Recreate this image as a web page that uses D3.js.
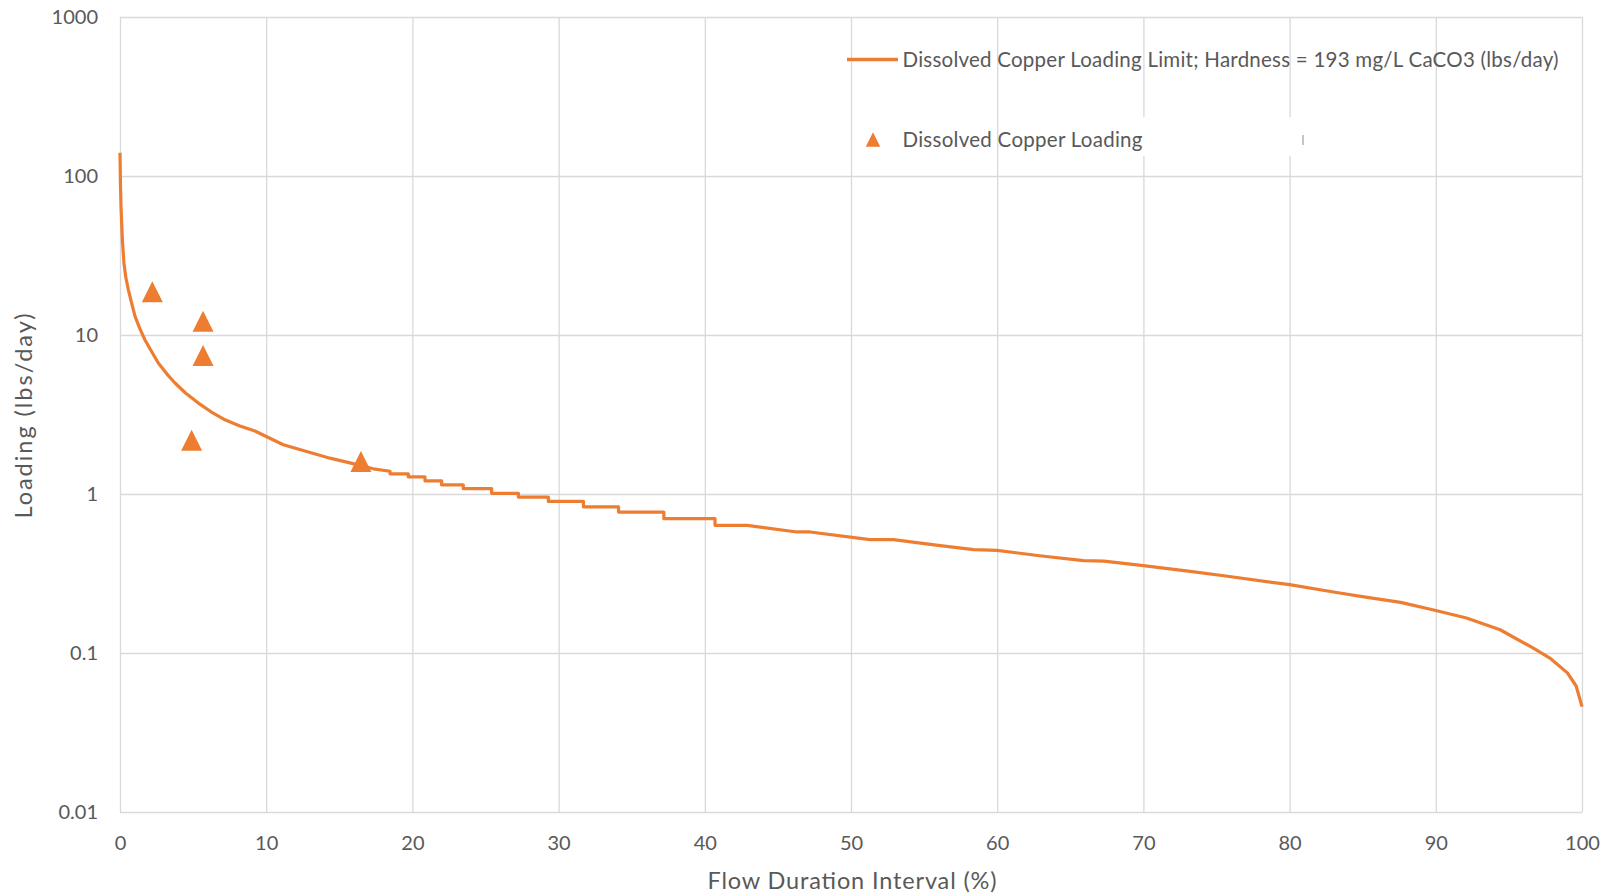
<!DOCTYPE html>
<html>
<head>
<meta charset="utf-8">
<script src="https://cdn.jsdelivr.net/npm/d3@7"></script>
<style>
  body { margin: 0; background: #fff; }
  text { font-family: Lato, "Open Sans", sans-serif; fill: #595959; }
</style>
</head>
<body>
<div class="chart"></div>
<script>

// Loading limit curve (flow duration %, lbs/day)
var limitFlow = [0, 0.03, 0.07, 0.16, 0.27, 0.4, 0.57, 0.8, 1.03, 1.35, 1.71, 2.15, 2.62, 3.2, 3.76, 4.5,
  5.36, 6.2, 7.18, 8.2, 9.23, 10.0, 11.17, 12.77, 14.36, 15.73, 17.33, 18.47, 18.47, 19.72, 19.72,
  20.86, 20.86, 22.0, 22.0, 23.48, 23.48, 25.42, 25.42, 27.25, 27.25, 29.3, 29.3, 31.7, 31.7,
  34.1, 34.1, 37.2, 37.2, 40.7, 40.7, 42.9, 46.3, 47.2, 51.3, 52.9, 56.1, 58.4, 60, 62.9, 65.9,
  67.3, 70, 73.2, 75.5, 80, 83.0, 85.3, 87.6, 90, 92.1, 94.4, 96.7, 97.8, 99.0, 99.6, 100];
var limitLoad = [140, 90, 64, 40, 28.4, 23, 19.3, 15.8, 13.1, 11, 9.3, 7.9, 6.67, 5.7, 4.99, 4.3,
  3.73, 3.3, 2.93, 2.68, 2.49, 2.30, 2.04, 1.85, 1.68, 1.57, 1.44, 1.39, 1.34, 1.34, 1.28,
  1.28, 1.21, 1.21, 1.14, 1.14, 1.08, 1.08, 1.01, 1.01, 0.957, 0.957, 0.898, 0.898, 0.83,
  0.83, 0.77, 0.77, 0.70, 0.70, 0.635, 0.635, 0.577, 0.577, 0.517, 0.517, 0.473, 0.447, 0.442, 0.409, 0.381,
  0.378, 0.354, 0.326, 0.306, 0.269, 0.242, 0.224, 0.208, 0.185, 0.166, 0.140, 0.107, 0.093, 0.075, 0.062, 0.046];

// Observed loadings
var obsFlow = [2.21, 5.68, 5.68, 4.9, 16.48];
var obsLoad = [18.7, 12.2, 7.43, 2.18, 1.60];

var xTicks = [0, 10, 20, 30, 40, 50, 60, 70, 80, 90, 100];
var yTicks = [0.01, 0.1, 1, 10, 100, 1000];

var seriesNames = ["Dissolved Copper Loading Limit; Hardness = 193 mg/L CaCO3 (lbs/day)",
  "Dissolved Copper Loading"];

LoadingChart = function(containerClassName) {
  this.containerClassName = containerClassName;
  this.init();
};

LoadingChart.prototype.init = function() {
  var vis = this;

  vis.margin = {left: 120, right: 26, top: 17, bottom: 83};
  vis.width = 1608 - vis.margin.left - vis.margin.right;
  vis.height = 895 - vis.margin.top - vis.margin.bottom;

  vis.svg = d3.select(vis.containerClassName).append("svg")
    .attr("width", 1608)
    .attr("height", 895);

  vis.g = vis.svg.append("g")
    .attr("transform", "translate(" + vis.margin.left + "," + vis.margin.top + ")");

  vis.x = d3.scaleLinear().domain([0, 100]).range([0, vis.width]);
  vis.y = d3.scaleLog().domain([0.01, 1000]).range([vis.height, 0]);

  // Axes with gridlines
  vis.yAxis = vis.g.append("g")
    .attr("class", "y-axis")
    .call(d3.axisLeft(vis.y)
      .tickValues(yTicks)
      .tickFormat(function(d) { return String(d); })
      .tickSizeInner(-vis.width)
      .tickSizeOuter(0)
      .tickPadding(22));

  vis.xAxis = vis.g.append("g")
    .attr("class", "x-axis")
    .attr("transform", "translate(0," + vis.height + ")")
    .call(d3.axisBottom(vis.x)
      .tickValues(xTicks)
      .tickSizeInner(-vis.height)
      .tickSizeOuter(0));

  vis.g.selectAll(".domain").remove();
  vis.g.selectAll(".tick line").attr("stroke", "#d9d9d9").attr("stroke-width", 1.3);
  vis.g.selectAll(".tick text")
    .attr("fill", "#595959")
    .style("font-size", "20px");
  vis.xAxis.selectAll(".tick text").attr("y", 31).attr("dy", "0.35em");

  // Axis titles
  vis.g.append("text")
    .text("Flow Duration Interval (%)")
    .attr("x", 852 - vis.margin.left)
    .attr("y", 889 - vis.margin.top)
    .attr("text-anchor", "middle")
    .attr("textLength", 289)
    .style("font-size", "23.5px");

  vis.svg.append("text")
    .text("Loading (lbs/day)")
    .attr("transform", "translate(32,416) rotate(-90)")
    .attr("text-anchor", "middle")
    .attr("textLength", 205)
    .style("font-size", "23.5px");

  vis.draw();
};

LoadingChart.prototype.draw = function() {
  var vis = this;

  var limitData = limitFlow.map(function(d, i) { return {flow: d, load: limitLoad[i]}; });
  var obsData = obsFlow.map(function(d, i) { return {flow: d, load: obsLoad[i]}; });

  var line = d3.line()
    .x(function(d) { return vis.x(d.flow); })
    .y(function(d) { return vis.y(d.load); });

  vis.g.append("path")
    .datum(limitData)
    .attr("d", line)
    .attr("fill", "none")
    .attr("stroke", "#ED7D31")
    .attr("stroke-width", 3.2)
    .attr("stroke-linejoin", "round");

  // Excel-style triangle marker
  var tri = {
    draw: function(context, size) {
      var h = Math.sqrt(size) / 2;
      context.moveTo(0, -h);
      context.lineTo(h, h);
      context.lineTo(-h, h);
      context.closePath();
    }
  };

  vis.g.selectAll(".obs")
    .data(obsData)
    .enter()
    .append("path")
      .attr("class", "obs")
      .attr("transform", function(d) {
        return "translate(" + vis.x(d.flow) + "," + vis.y(d.load) + ")";
      })
      .attr("d", d3.symbol().type(tri).size(441))
      .attr("fill", "#ED7D31");

  // Legend
  var legend = vis.svg.append("g").attr("class", "legend");

  legend.append("line")
    .attr("x1", 847).attr("x2", 898)
    .attr("y1", 59.5).attr("y2", 59.5)
    .attr("stroke", "#ED7D31")
    .attr("stroke-width", 3.5);

  legend.append("text")
    .text(seriesNames[0])
    .attr("x", 902.5).attr("y", 59.5)
    .attr("dy", "0.35em")
    .attr("textLength", 656)
    .style("font-size", "20.5px");

  // white patch over the second legend row
  legend.append("rect")
    .attr("x", 1143).attr("y", 117)
    .attr("width", 160).attr("height", 39)
    .attr("fill", "#fff");
  legend.append("line")
    .attr("x1", 1303).attr("x2", 1303)
    .attr("y1", 135).attr("y2", 145)
    .attr("stroke", "#8c8c8c")
    .attr("stroke-width", 1);

  legend.append("path")
    .attr("transform", "translate(873,139.5)")
    .attr("d", d3.symbol().type(tri).size(210))
    .attr("fill", "#ED7D31");

  legend.append("text")
    .text(seriesNames[1])
    .attr("x", 902.5).attr("y", 139.5)
    .attr("dy", "0.35em")
    .attr("textLength", 240)
    .style("font-size", "20.5px");
};

new LoadingChart(".chart");
</script>
</body>
</html>
